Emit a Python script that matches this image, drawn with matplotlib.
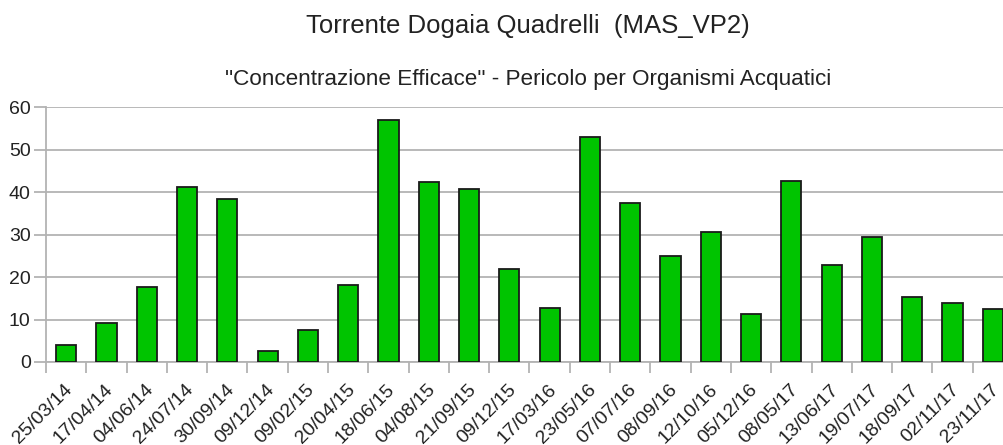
import matplotlib
matplotlib.use("Agg")
import matplotlib.pyplot as plt
import matplotlib.transforms as mtransforms
import numpy as np

dates = ["25/03/14", "17/04/14", "04/06/14", "24/07/14", "30/09/14", "09/12/14",
         "09/02/15", "20/04/15", "18/06/15", "04/08/15", "21/09/15", "09/12/15",
         "17/03/16", "23/05/16", "07/07/16", "08/09/16", "12/10/16", "05/12/16",
         "08/05/17", "13/06/17", "19/07/17", "18/09/17", "02/11/17", "23/11/17"]
values = [4.0, 9.1, 17.7, 41.2, 38.3, 2.6,
          7.6, 18.1, 57.0, 42.3, 40.8, 22.0,
          12.7, 53.0, 37.5, 25.0, 30.6, 11.3,
          42.6, 22.8, 29.3, 15.2, 13.8, 12.4]
y_ticks = [0, 10, 20, 30, 40, 50, 60]

title = "Torrente Dogaia Quadrelli  (MAS_VP2)"
subtitle = "\"Concentrazione Efficace\" - Pericolo per Organismi Acquatici"

plt.rcParams["font.family"] = ["Liberation Sans", "DejaVu Sans"]

W, H = 1004, 445
fig = plt.figure(figsize=(W / 100, H / 100), dpi=100)
ax_left, ax_right, ax_top, ax_bottom = 46, 1013, 107, 362
ax = fig.add_axes([ax_left / W, 1 - ax_bottom / H,
                   (ax_right - ax_left) / W, (ax_bottom - ax_top) / H])

grid_col = "#b3b3b3"
text_col = "#222222"
x = np.arange(len(dates))
ax.bar(x, values, width=0.5, color="#00c400", edgecolor="#1a1a1a",
       linewidth=1.3, zorder=3)

ax.set_xlim(-0.5, len(dates) - 0.5)
ax.set_ylim(0, 60)
ax.set_yticks(y_ticks)
ax.yaxis.grid(True, color=grid_col, linewidth=1.3, zorder=0)
ax.tick_params(axis="y", length=9, width=1.3, color=grid_col,
               labelsize=14, pad=2, labelcolor=text_col)

# category separators as minor ticks, labels on the category centres
ax.set_xticks(x)
ax.set_xticks(np.arange(len(dates) + 1) - 0.5, minor=True)
ax.set_xticklabels(dates, rotation=45, ha="right", va="center",
                   rotation_mode="anchor", fontsize=14, color=text_col)
ax.tick_params(axis="x", which="major", length=0, pad=18)
ax.tick_params(axis="x", which="minor", length=8, width=1.3, color=grid_col)
shift = mtransforms.ScaledTranslation(4 / 100, 0, fig.dpi_scale_trans)
for lab in ax.get_xticklabels():
    lab.set_transform(lab.get_transform() + shift)

for side in ("top", "right"):
    ax.spines[side].set_visible(False)
for side in ("left", "bottom"):
    ax.spines[side].set_color(grid_col)
    ax.spines[side].set_linewidth(1.3)

fig.text(527.5 / W, 1 - 32.5 / H, title, ha="center", va="baseline",
         fontsize=18.5, color=text_col)
fig.text(528.5 / W, 1 - 85 / H, subtitle, ha="center", va="baseline",
         fontsize=16.2, color=text_col)

fig.savefig("out.png", dpi=100)
